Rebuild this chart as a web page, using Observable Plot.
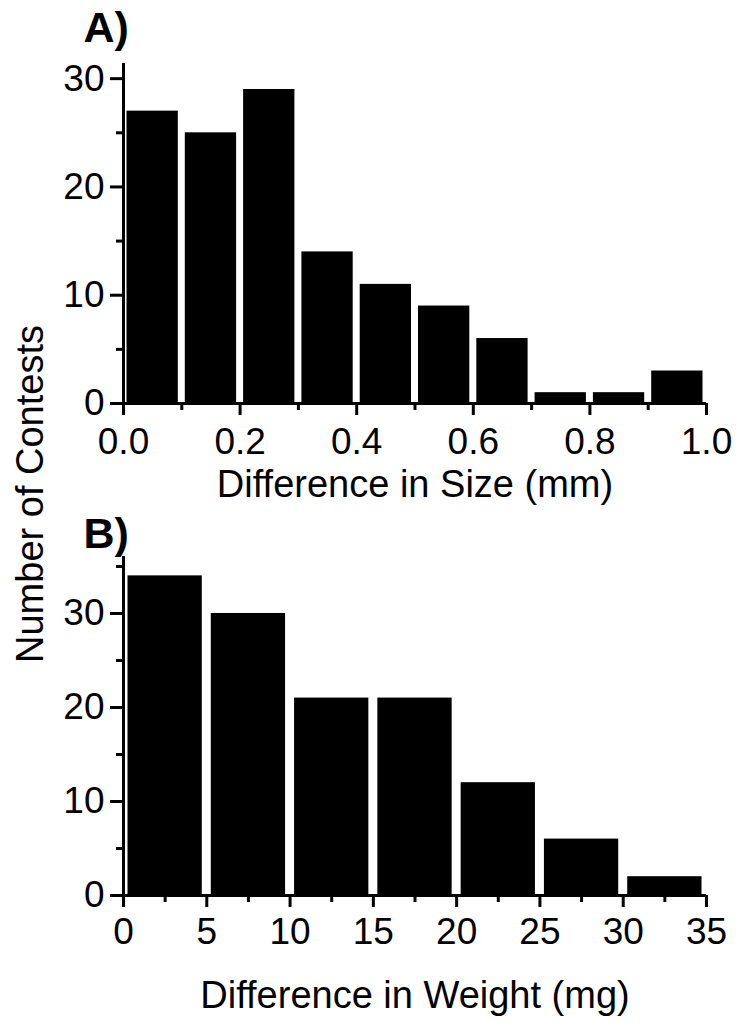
<!DOCTYPE html>
<html>
<head>
<meta charset="utf-8">
<script src="https://cdn.jsdelivr.net/npm/d3@7"></script>
<script src="https://cdn.jsdelivr.net/npm/@observablehq/plot@0.6"></script>
<style>
  html, body { margin: 0; padding: 0; background: #fff; }
  #wrap { position: relative; width: 737px; height: 1027px; font-family: "Liberation Sans", Arial, sans-serif; }
  #wrap svg { position: absolute; left: 0; overflow: visible; }
  #ylab { position: absolute; left: 30px; top: 494px; transform: translate(-50%, -50%) rotate(-90deg);
          white-space: nowrap; font-size: 38px; color: #000; line-height: 1; }
</style>
</head>
<body>
<div id="wrap"><div id="ylab">Number of Contests</div></div>
<script>
// Panel A: difference in size (mm)
const sizeBinStart = [0.0, 0.1, 0.2, 0.3, 0.4, 0.5, 0.6, 0.7, 0.8, 0.9];
const sizeBinEnd   = [0.1, 0.2, 0.3, 0.4, 0.5, 0.6, 0.7, 0.8, 0.9, 1.0];
const sizeCounts   = [27, 25, 29, 14, 11, 9, 6, 1, 1, 3];
const sizeTicks    = [0.0, 0.2, 0.4, 0.6, 0.8, 1.0];
const sizeMinor    = [0.1, 0.3, 0.5, 0.7, 0.9];
const countTicksA  = [0, 10, 20, 30];
const countMinorA  = [5, 15, 25];

// Panel B: difference in weight (mg)
const weightBinStart = [0, 5, 10, 15, 20, 25, 30];
const weightBinEnd   = [5, 10, 15, 20, 25, 30, 35];
const weightCounts   = [34, 30, 21, 21, 12, 6, 2];
const weightTicks    = [0, 5, 10, 15, 20, 25, 30, 35];
const weightMinor    = [2.5, 7.5, 12.5, 17.5, 22.5, 27.5, 32.5];
const countTicksB    = [0, 10, 20, 30];
const countMinorB    = [5, 15, 25, 35];

const FONT = '"Liberation Sans", Arial, sans-serif';

function panel(cfg) {
  const data = cfg.start.map((s, i) => ({x1: s, x2: cfg.end[i], count: cfg.counts[i]}));
  return Plot.plot({
    width: 737, height: cfg.height,
    marginLeft: 123, marginRight: 31, marginTop: cfg.marginTop, marginBottom: cfg.marginBottom,
    x: {domain: cfg.xDomain, axis: null, label: null},
    y: {domain: cfg.yDomain, axis: null, label: null},
    style: {fontFamily: FONT, color: "#000", background: "transparent", overflow: "visible"},
    marks: [
      Plot.rectY(data, {x1: "x1", x2: "x2", y: "count", fill: "#000",
        insetLeft: cfg.inset, insetRight: cfg.inset}),
      Plot.ruleX([cfg.xDomain[0]], {stroke: "#000", strokeWidth: 3}),
      Plot.ruleY([0], {stroke: "#000", strokeWidth: 3}),
      Plot.axisX(cfg.xTicks, {tickSize: 12, tickPadding: cfg.xPad, strokeWidth: 3, fontSize: 37,
        tickFormat: cfg.xFormat, label: null}),
      Plot.axisX(cfg.xMinor, {tickSize: 7, strokeWidth: 3, tickFormat: () => "", label: null}),
      Plot.axisY(cfg.yTicks, {tickSize: 13, tickPadding: 6, strokeWidth: 3, fontSize: 37, label: null}),
      Plot.axisY(cfg.yMinor, {tickSize: 7, strokeWidth: 3, tickFormat: () => "", label: null}),
      Plot.text([cfg.xLabel], {frameAnchor: "bottom", dy: cfg.labelDy, fontSize: 38,
        lineAnchor: "middle", fill: "#000"}),
      Plot.text([cfg.tag], {frameAnchor: "top-left", dx: -40, dy: cfg.tagDy, fontSize: 43,
        fontWeight: "bold", textAnchor: "start", lineAnchor: "middle", fill: "#000"})
    ]
  });
}

const a = panel({
  height: 510, marginTop: 63, marginBottom: 107,
  start: sizeBinStart, end: sizeBinEnd, counts: sizeCounts,
  xDomain: [0, 1], yDomain: [0, 31.4],
  xTicks: sizeTicks, xMinor: sizeMinor, yTicks: countTicksA, yMinor: countMinorA,
  xFormat: d3.format(".1f"), inset: 3.5, xPad: 12,
  xLabel: "Difference in Size (mm)", labelDy: 81, tag: "A)", tagDy: -35
});
a.style.top = "0px";

const b = panel({
  height: 517, marginTop: 46, marginBottom: 132,
  start: weightBinStart, end: weightBinEnd, counts: weightCounts,
  xDomain: [0, 35], yDomain: [0, 36.06],
  xTicks: weightTicks, xMinor: weightMinor, yTicks: countTicksB, yMinor: countMinorB,
  xFormat: d3.format("d"), inset: 4.5, xPad: 10,
  xLabel: "Difference in Weight (mg)", labelDy: 100, tag: "B)", tagDy: -22
});
b.style.top = "510px";

const wrap = document.getElementById("wrap");
wrap.appendChild(a);
wrap.appendChild(b);
</script>
</body>
</html>
